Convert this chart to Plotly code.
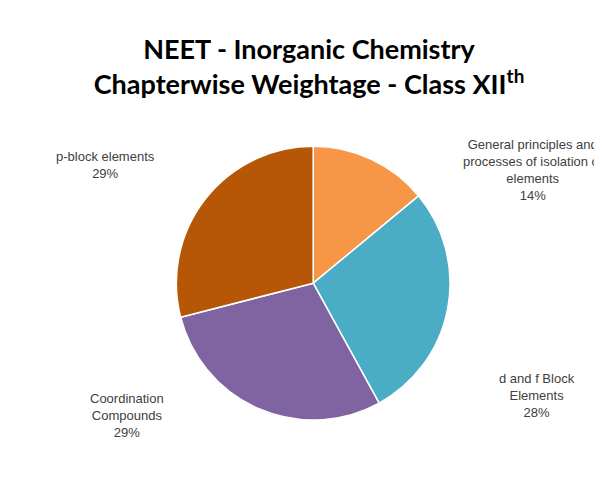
import plotly.graph_objects as go

labels = ["General principles and<br>processes of isolation of<br>elements", "d and f Block<br>Elements", "Coordination<br>Compounds", "p-block elements"]
values = [14, 28, 29, 29]
colors = ["#F79646", "#4BACC6", "#8064A2", "#B65708"]
label_pos = [(1.007, 0.809), (1.016, 0.108), (0.089, 0.044), (0.039, 0.822)]

fig = go.Figure(go.Pie(
    labels=labels, values=values, sort=False, direction="clockwise", rotation=0,
    marker=dict(colors=colors, line=dict(color="white", width=1.5)),
    textinfo="none", hoverinfo="label+percent", showlegend=False,
    domain=dict(x=[0.131, 0.888], y=[0.031, 0.881]),
))
for lab, v, (x, y) in zip(labels, values, label_pos):
    fig.add_annotation(x=x, y=y, xref="paper", yref="paper", text=f"{lab}<br>{v}%",
                       showarrow=False, font=dict(family="Liberation Sans", size=13, color="#404040"),
                       align="center", xanchor="center", yanchor="middle")
fig.update_layout(
    width=602, height=502, paper_bgcolor="white",
    title=dict(text="<b>NEET - Inorganic Chemistry<br>Chapterwise Weightage - Class XII<sup>th</sup></b>",
               x=0.5, xanchor="center", y=0.898, yanchor="top",
               font=dict(family="Lato", size=27, color="black")),
)
fig.write_html("out.html")
